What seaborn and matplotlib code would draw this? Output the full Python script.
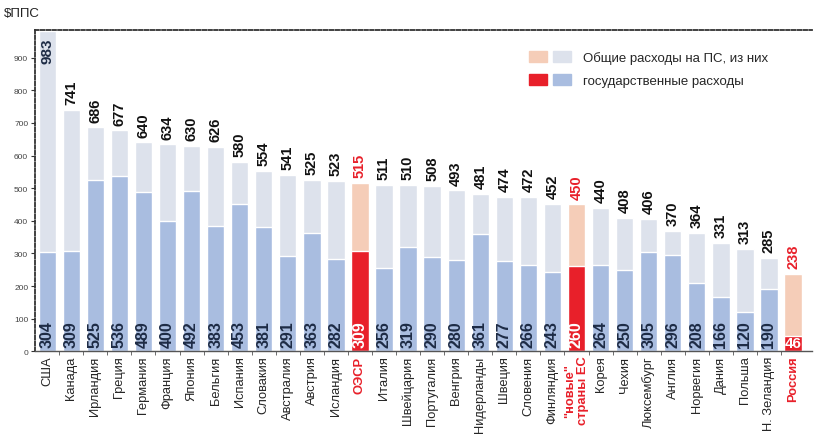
import matplotlib
matplotlib.use("Agg")
import matplotlib.pyplot as plt
import matplotlib.patches as mpatches
from matplotlib.legend_handler import HandlerTuple
import seaborn as sns
import pandas as pd

# Data ($PPP per capita)
countries = ['США', 'Канада', 'Ирландия', 'Греция', 'Германия', 'Франция', 'Япония',
             'Бельгия', 'Испания', 'Словакия', 'Австралия', 'Австрия', 'Исландия', 'ОЭСР',
             'Италия', 'Швейцария', 'Португалия', 'Венгрия', 'Нидерланды', 'Швеция',
             'Словения', 'Финляндия', '"новые"\nстраны ЕС', 'Корея', 'Чехия', 'Люксембург',
             'Англия', 'Норвегия', 'Дания', 'Польша', 'Н. Зеландия', 'Россия']
total = [983, 741, 686, 677, 640, 634, 630, 626, 580, 554, 541, 525, 523, 515,
         511, 510, 508, 493, 481, 474, 472, 452, 450, 440, 408, 406,
         370, 364, 331, 313, 285, 238]
public = [304, 309, 525, 536, 489, 400, 492, 383, 453, 381, 291, 363, 282, 309,
          256, 319, 290, 280, 361, 277, 266, 243, 260, 264, 250, 305,
          296, 208, 166, 120, 190, 46]
highlight = ['ОЭСР', '"новые"\nстраны ЕС', 'Россия']

C_TOTAL, C_PUBLIC = '#dde2ec', '#a9bde0'
C_TOTAL_HL, C_PUBLIC_HL = '#f5cdb8', '#e8202a'
C_RED_TEXT = '#e8202a'

df = pd.DataFrame({'country': countries, 'total': total, 'public': public})
is_hl = [c in highlight for c in countries]
pal_total = [C_TOTAL_HL if h else C_TOTAL for h in is_hl]
pal_public = [C_PUBLIC_HL if h else C_PUBLIC for h in is_hl]

sns.set_style('white')
plt.rcParams['font.family'] = ['Liberation Sans', 'DejaVu Sans']

fig = plt.figure(figsize=(8.18, 4.35), dpi=100)
ax = fig.add_axes([0.043, 0.19, 0.95, 0.739])

sns.barplot(data=df, x='country', y='total', hue='country', palette=pal_total,
            legend=False, width=0.72, saturation=1, ax=ax)
sns.barplot(data=df, x='country', y='public', hue='country', palette=pal_public,
            legend=False, width=0.72, saturation=1, ax=ax)

ymax = 985
for i, (c, t, p, h) in enumerate(zip(countries, total, public, is_hl)):
    if t > ymax - 60:
        ax.text(i, t - 20, str(t), rotation=90, ha='center', va='top',
                fontsize=11, fontweight='bold', color='#1d2b45')
    else:
        ax.text(i, t + 18, str(t), rotation=90, ha='center', va='bottom',
                fontsize=10.5, fontweight='bold', color=C_RED_TEXT if h else '#111111')
    if c == 'Россия':
        ax.text(i, 3, str(p), ha='center', va='bottom', fontsize=11,
                fontweight='bold', color='white')
    else:
        ax.text(i, 12, str(p), rotation=90, ha='center', va='bottom',
                fontsize=11.5, fontweight='bold', color='white' if h else '#1d2b45')

ax.set_ylim(0, ymax)
ax.set_xlim(-0.5, 31.8)
ax.set_yticks(range(0, 1000, 100))
ax.tick_params(axis='y', labelsize=6, labelcolor='#444444', length=3,
               direction='out', left=True, color='#333333', pad=2)
ax.set_xticks(range(len(countries)))
ax.set_xticklabels(countries, rotation=90, fontsize=9.3, linespacing=1.1)
ax.tick_params(axis='x', length=0, pad=3)
for lbl in ax.get_xticklabels():
    if lbl.get_text() in highlight:
        lbl.set_color(C_RED_TEXT)
        lbl.set_fontweight('bold')
ax.set_xticks([i + 0.5 for i in range(len(countries) - 1)], minor=True)
ax.tick_params(axis='x', which='minor', length=3, color='#555555', bottom=True)
ax.set_xlabel('')
ax.set_ylabel('')

for side in ['left', 'top']:
    ax.spines[side].set_visible(True)
    ax.spines[side].set_linestyle((0, (2, 1.2)))
    ax.spines[side].set_color('#333333')
    ax.spines[side].set_linewidth(1.3)
ax.spines['bottom'].set_color('#555555')
ax.spines['bottom'].set_linewidth(1.0)
ax.spines['right'].set_visible(False)

fig.text(0.005, 0.968, '$ППС', fontsize=9.5, color='#222222', va='center')

h1 = (mpatches.Patch(color=C_TOTAL_HL), mpatches.Patch(color=C_TOTAL))
h2 = (mpatches.Patch(color=C_PUBLIC_HL), mpatches.Patch(color=C_PUBLIC))
ax.legend([h1, h2], ['Общие расходы на ПС, из них', 'государственные расходы'],
          handler_map={tuple: HandlerTuple(ndivide=None, pad=0.5)},
          loc='upper left', bbox_to_anchor=(0.62, 0.97), frameon=False,
          prop={'size': 9.5}, handlelength=3.2, handleheight=0.9, labelspacing=0.7,
          handletextpad=0.9)

fig.savefig('out.png', dpi=100)
